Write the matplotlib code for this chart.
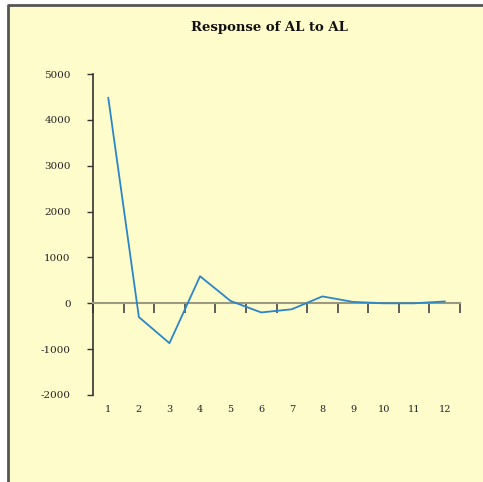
import matplotlib.pyplot as plt
from matplotlib.patches import Rectangle
from matplotlib.lines import Line2D
from matplotlib.transforms import blended_transform_factory
import numpy as np

# impulse response of AL to a shock in AL, periods 1..12
periods = [1, 2, 3, 4, 5, 6, 7, 8, 9, 10, 11, 12]
response = [4480, -300, -870, 590, 50, -200, -130, 150, 30, 0, 0, 40]
yticks = [-2000, -1000, 0, 1000, 2000, 3000, 4000, 5000]

bg = '#fffccc'

fig = plt.figure(figsize=(4.83, 4.82), dpi=100)
fig.patch.set_facecolor('white')
# chart area fill, framed only along the top and left
x0, y0 = 8 / 483, 1 - 5 / 482
fig.patches.append(Rectangle((x0, 0), 1 - x0, y0, transform=fig.transFigure,
                             facecolor=bg, edgecolor='none', zorder=-2))
fig.lines.append(Line2D([x0, x0, 1], [0, y0, y0], transform=fig.transFigure,
                        color='#555555', linewidth=2, zorder=0))

ax = fig.add_axes([93 / 483, 1 - 395 / 482, (460 - 93) / 483, (395 - 74) / 482])
ax.set_zorder(2)
ax.set_facecolor('none')

ax.plot(periods, response, color='#2a86c6', linewidth=1.3, zorder=3)

ax.set_xlim(0.5, 12.5)
ax.set_ylim(-2000, 5000)

ax.spines['top'].set_visible(False)
ax.spines['right'].set_visible(False)
ax.spines['left'].set_color('#333333')
ax.spines['left'].set_linewidth(1.2)
ax.spines['bottom'].set_position(('data', 0))
ax.spines['bottom'].set_color('#9a9a80')
ax.spines['bottom'].set_linewidth(1.5)

ax.set_yticks(yticks)
ax.set_yticklabels([str(v) for v in yticks], fontsize=7.5, family='DejaVu Serif',
                   color='#222222')
ax.tick_params(axis='y', direction='out', length=4, width=1, color='#333333', pad=12)

# category boundaries get tick marks, labels sit below the plot area
ax.set_xticks(np.arange(0.5, 13, 1))
ax.set_xticklabels([])
ax.tick_params(axis='x', direction='out', length=7, width=1.2, color='#444444')
trans = blended_transform_factory(ax.transData, ax.transAxes)
for p in periods:
    ax.text(p, -0.045, str(p), transform=trans, ha='center', va='center',
            fontsize=7, family='DejaVu Serif', color='#222222')

fig.text(269 / 483, 1 - 27 / 482, 'Response of AL to AL', ha='center', va='center',
         fontsize=9.5, fontweight='bold', family='DejaVu Serif', color='#111111')

fig.savefig('out.png', dpi=100, facecolor=fig.get_facecolor())
